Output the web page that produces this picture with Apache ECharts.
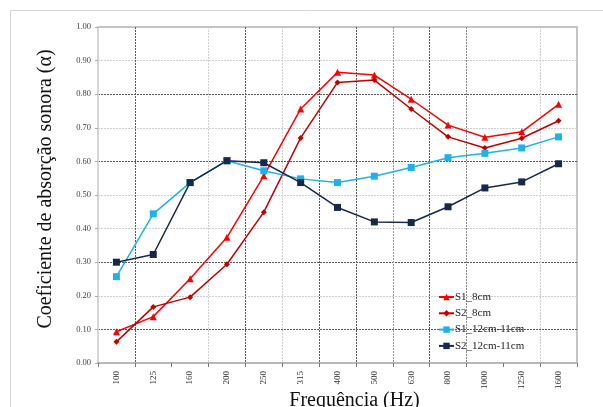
<!DOCTYPE html>
<html>
<head>
<meta charset="utf-8">
<script src="https://cdn.jsdelivr.net/npm/echarts@6/dist/echarts.min.js"></script>
<style>
html,body{margin:0;padding:0;background:#fff;}
#chart{width:603px;height:407px;}
</style>
</head>
<body>
<div id="chart"></div>
<script>
const categories = ['100','125','160','200','250','315','400','500','630','800','1000','1250','1600'];
const s1_8cm = [0.093,0.138,0.251,0.374,0.557,0.756,0.865,0.857,0.785,0.708,0.672,0.688,0.770];
const s2_8cm = [0.063,0.167,0.196,0.294,0.449,0.670,0.835,0.842,0.756,0.673,0.640,0.669,0.721];
const s1_12cm = [0.257,0.444,0.537,0.602,0.572,0.548,0.537,0.556,0.582,0.611,0.624,0.640,0.673];
const s2_12cm = [0.300,0.323,0.537,0.602,0.596,0.537,0.463,0.420,0.418,0.465,0.521,0.539,0.593];
const seriesNames = ['S1_8cm','S2_8cm','S1_12cm-11cm','S2_12cm-11cm'];
const yTitle = 'Coeficiente de absorção sonora (α)';
const xTitle = 'Frequência (Hz)';

const FONT = '"Liberation Serif", "Times New Roman", serif';
const D = '#5a5a5a', L = '#cfcfcf', T = 'transparent';

const chart = echarts.init(document.getElementById('chart'), null, {renderer: 'canvas'});

function mk(name, data, color, symbol, size) {
  return {
    name: name, type: 'line', data: data,
    symbol: symbol, symbolSize: size,
    lineStyle: {color: color, width: 1.5},
    itemStyle: {color: color},
    emphasis: {disabled: true},
    animation: false
  };
}

chart.setOption({
  backgroundColor: '#fff',
  animation: false,
  graphic: [{
    type: 'rect', shape: {x: 10.5, y: 10.5, width: 700, height: 600},
    style: {fill: 'none', stroke: '#d4d4d4', lineWidth: 1}, silent: true, z: -10
  }],
  grid: {left: 98, top: 27, right: 26, bottom: 44, containLabel: false, outerBoundsMode: 'none',
    show: true, borderColor: '#c4c4c4', borderWidth: 2, backgroundColor: 'transparent'},
  legend: {
    orient: 'vertical', left: 433, top: 286,
    itemWidth: 15, itemHeight: 8, itemGap: 4.3,
    data: seriesNames,
    textStyle: {fontFamily: FONT, fontSize: 11, lineHeight: 12, color: '#222', padding: [0,0,0,-4]}
  },
  xAxis: {
    type: 'category', data: categories, boundaryGap: true,
    name: xTitle, nameLocation: 'middle', nameGap: 28, nameMoveOverlap: false,
    nameTextStyle: {fontFamily: FONT, fontSize: 20, color: '#111', padding: [0,0,0,34]},
    axisLine: {lineStyle: {color: '#b8b8b8', width: 2}},
    axisTick: {show: true, length: 4, lineStyle: {color: '#777'}},
    axisLabel: {rotate: 90, fontFamily: FONT, fontSize: 9, color: '#333', margin: 8},
    splitLine: {show: true, lineStyle: {type: [2, 1], width: 1,
      color: [T, D, T, L, D, L, D, D, '#9a9a9a', D, '#8a8a8a', T, L, T]}}
  },
  yAxis: {
    type: 'value', min: 0, max: 1, interval: 0.1,
    name: yTitle, nameLocation: 'middle', nameGap: 42, nameMoveOverlap: false,
    nameTextStyle: {fontFamily: FONT, fontSize: 20, color: '#111', padding: [0,0,0,12]},
    axisLine: {show: true, lineStyle: {color: '#d6d6d6', width: 2}},
    axisTick: {show: true, length: 3, lineStyle: {color: '#aaa'}},
    axisLabel: {fontFamily: FONT, fontSize: 8.5, color: '#444', margin: 7, formatter: v => v.toFixed(2)},
    splitLine: {show: true, showMinLine: true, showMaxLine: true, lineStyle: {type: [2, 1], width: 1,
      color: ['#bbb', D, L, D, L, L, D, L, D, L, '#c4c4c4']}}
  },
  series: [
    mk(seriesNames[0], s1_8cm, '#ff0000', 'triangle', 7),
    mk(seriesNames[1], s2_8cm, '#c00000', 'diamond', 6),
    mk(seriesNames[2], s1_12cm, '#1fb1ec', 'rect', 7),
    mk(seriesNames[3], s2_12cm, '#17294a', 'rect', 7)
  ]
});
</script>
</body>
</html>
